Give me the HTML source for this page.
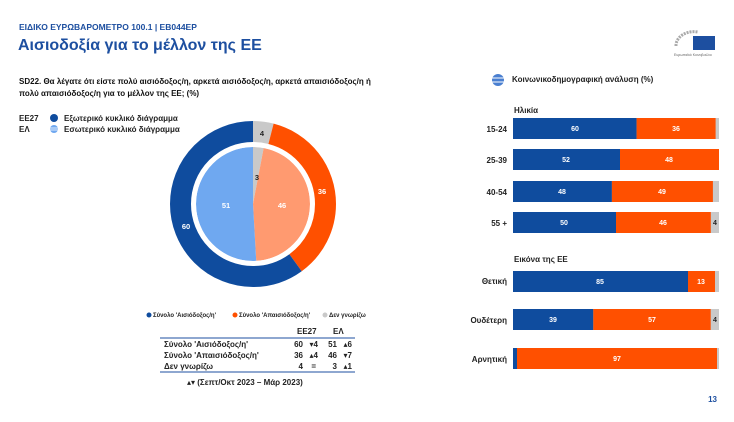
<!DOCTYPE html>
<html><head><meta charset="utf-8"><style>
body{margin:0;width:734px;height:422px;background:#fff;font-family:"Liberation Sans","DejaVu Sans",sans-serif;overflow:hidden}
svg{display:block}
</style></head><body>
<svg width="734" height="422" viewBox="0 0 734 422" font-family="Liberation Sans, DejaVu Sans, sans-serif">
<text x="19" y="30" font-size="8.5" font-weight="bold" fill="#1d4fa0">ΕΙΔΙΚΟ ΕΥΡΩΒΑΡΟΜΕΤΡΟ 100.1 | EB044EP</text>
<text x="18" y="50" font-size="16" font-weight="bold" fill="#1d4fa0">Αισιοδοξία για το μέλλον της ΕΕ</text>
<g transform="translate(676,32)">
<path d="M0 14 A18 14 0 0 1 22 0" fill="none" stroke="#aaa" stroke-width="3" stroke-dasharray="2 1"/>
<rect x="17" y="4" width="22" height="14" fill="#1d4fa0"/>
<text x="-2" y="24" font-size="3.5" fill="#666">Ευρωπαϊκό Κοινοβούλιο</text>
</g>
<text x="19" y="84" font-size="8" font-weight="bold" fill="#111">SD22. Θα λέγατε ότι είστε πολύ αισιόδοξος/η, αρκετά αισιόδοξος/η, αρκετά απαισιόδοξος/η ή</text>
<text x="19" y="96" font-size="8" font-weight="bold" fill="#111">πολύ απαισιόδοξος/η για το μέλλον της ΕΕ; (%)</text>
<text x="19" y="121" font-size="8" font-weight="bold" fill="#222">EE27</text>
<text x="19" y="132" font-size="8" font-weight="bold" fill="#222">ΕΛ</text>
<circle cx="54" cy="118" r="4" fill="#0f4c9e"/>
<circle cx="54" cy="129" r="4" fill="#6fa8f0"/>
<line x1="50" y1="128" x2="58" y2="128" stroke="#fff" stroke-width="0.8"/><line x1="50" y1="130" x2="58" y2="130" stroke="#fff" stroke-width="0.8"/>
<text x="64" y="121" font-size="8" font-weight="bold" fill="#222">Εξωτερικό κυκλικό διάγραμμα</text>
<text x="64" y="132" font-size="8" font-weight="bold" fill="#222">Εσωτερικό κυκλικό διάγραμμα</text>
<g transform="rotate(-90 253 204)" fill="none">
<circle cx="253" cy="204" r="72.5" stroke="#c9c9c9" stroke-width="21" stroke-dasharray="18.22 500"/>
<circle cx="253" cy="204" r="72.5" stroke="#ff5000" stroke-width="21" stroke-dasharray="163.99 500" stroke-dashoffset="-18.22"/>
<circle cx="253" cy="204" r="72.5" stroke="#0f4c9e" stroke-width="21" stroke-dasharray="273.32 500" stroke-dashoffset="-182.21"/>
<circle cx="253" cy="204" r="28.5" stroke="#c9c9c9" stroke-width="57" stroke-dasharray="5.37 300"/>
<circle cx="253" cy="204" r="28.5" stroke="#ff9a70" stroke-width="57" stroke-dasharray="82.37 300" stroke-dashoffset="-5.37"/>
<circle cx="253" cy="204" r="28.5" stroke="#6fa8f0" stroke-width="57" stroke-dasharray="91.33 300" stroke-dashoffset="-87.74"/>
</g>
<circle cx="253" cy="204" r="58.5" fill="none" stroke="#fff" stroke-width="3"/>
<g font-size="7.5" font-weight="bold" text-anchor="middle">
<text x="262" y="136" fill="#222">4</text>
<text x="322" y="194" fill="#fff">36</text>
<text x="186" y="229" fill="#fff">60</text>
<text x="226" y="208" fill="#fff">51</text>
<text x="282" y="208" fill="#fff">46</text>
<text x="257" y="180" fill="#222">3</text>
</g>
<g font-size="6" font-weight="bold" fill="#222">
<circle cx="149" cy="315" r="2.5" fill="#0f4c9e"/><text x="153" y="317">Σύνολο 'Αισιόδοξος/η'</text>
<circle cx="235" cy="315" r="2.5" fill="#ff5000"/><text x="239" y="317">Σύνολο 'Απαισιόδοξος/η'</text>
<circle cx="325" cy="315" r="2.5" fill="#c9c9c9"/><text x="329" y="317">Δεν γνωρίζω</text>
</g>
<g font-size="8" font-weight="bold" fill="#222">
<text x="297" y="334">ΕΕ27</text><text x="333" y="334">ΕΛ</text>
<line x1="160" y1="338" x2="355" y2="338" stroke="#1d4fa0" stroke-width="1"/>
<text x="164" y="347">Σύνολο 'Αισιόδοξος/η'</text>
<text x="164" y="358">Σύνολο 'Απαισιόδοξος/η'</text>
<text x="164" y="369">Δεν γνωρίζω</text>
<g text-anchor="end">
<text x="303" y="347">60</text><text x="303" y="358">36</text><text x="303" y="369">4</text>
<text x="337" y="347">51</text><text x="337" y="358">46</text><text x="337" y="369">3</text>
<text x="318" y="347">▾4</text><text x="318" y="358">▴4</text><text x="316" y="369">=</text>
<text x="352" y="347">▴6</text><text x="352" y="358">▾7</text><text x="352" y="369">▴1</text>
</g>
<line x1="160" y1="372" x2="355" y2="372" stroke="#1d4fa0" stroke-width="1"/>
<text x="187" y="385">▴▾ (Σεπτ/Οκτ 2023 – Μάρ 2023)</text>
</g>
<circle cx="498" cy="80" r="6" fill="#4a7fd0"/>
<line x1="492" y1="78" x2="504" y2="78" stroke="#fff"/><line x1="492" y1="82" x2="504" y2="82" stroke="#fff"/>
<text x="512" y="82" font-size="8" font-weight="bold" fill="#222">Κοινωνικοδημογραφική ανάλυση (%)</text>
<g font-size="8" font-weight="bold" fill="#222">
<text x="514" y="113">Ηλικία</text>
<text x="514" y="262">Εικόνα της ΕΕ</text>
<g text-anchor="end">
<text x="507" y="132">15-24</text><text x="507" y="163">25-39</text><text x="507" y="195">40-54</text><text x="507" y="226">55 +</text>
<text x="507" y="284">Θετική</text><text x="507" y="323">Ουδέτερη</text><text x="507" y="362">Αρνητική</text>
</g>
</g>
<g>
<rect x="513" y="118" width="206" height="21" fill="#c9c9c9"/><rect x="513" y="118" width="123.6" height="21" fill="#0f4c9e"/><rect x="636.6" y="118" width="79" height="21" fill="#ff5000"/>
<rect x="513" y="149" width="206" height="21" fill="#ff5000"/><rect x="513" y="149" width="107" height="21" fill="#0f4c9e"/>
<rect x="513" y="181" width="206" height="21" fill="#c9c9c9"/><rect x="513" y="181" width="98.9" height="21" fill="#0f4c9e"/><rect x="611.9" y="181" width="101" height="21" fill="#ff5000"/>
<rect x="513" y="212" width="206" height="21" fill="#c9c9c9"/><rect x="513" y="212" width="103" height="21" fill="#0f4c9e"/><rect x="616" y="212" width="94.8" height="21" fill="#ff5000"/>
<rect x="513" y="271" width="206" height="21" fill="#c9c9c9"/><rect x="513" y="271" width="175" height="21" fill="#0f4c9e"/><rect x="688" y="271" width="27" height="21" fill="#ff5000"/>
<rect x="513" y="309" width="206" height="21" fill="#c9c9c9"/><rect x="513" y="309" width="80.3" height="21" fill="#0f4c9e"/><rect x="593.3" y="309" width="117.4" height="21" fill="#ff5000"/>
<rect x="513" y="348" width="206" height="21" fill="#c9c9c9"/><rect x="513" y="348" width="4" height="21" fill="#0f4c9e"/><rect x="517" y="348" width="200" height="21" fill="#ff5000"/>
</g>
<g font-size="7" font-weight="bold" fill="#fff" text-anchor="middle">
<text x="575" y="131">60</text><text x="676" y="131">36</text>
<text x="566" y="162">52</text><text x="669" y="162">48</text>
<text x="562" y="194">48</text><text x="662" y="194">49</text>
<text x="564" y="225">50</text><text x="663" y="225">46</text>
<text x="600" y="284">85</text><text x="701" y="284">13</text>
<text x="553" y="322">39</text><text x="652" y="322">57</text>
<text x="617" y="361">97</text>
<text x="715" y="225" fill="#222">4</text><text x="715" y="322" fill="#222">4</text>
</g>
<text x="717" y="402" font-size="8" font-weight="bold" fill="#1d4fa0" text-anchor="end">13</text>
</svg>
</body></html>
